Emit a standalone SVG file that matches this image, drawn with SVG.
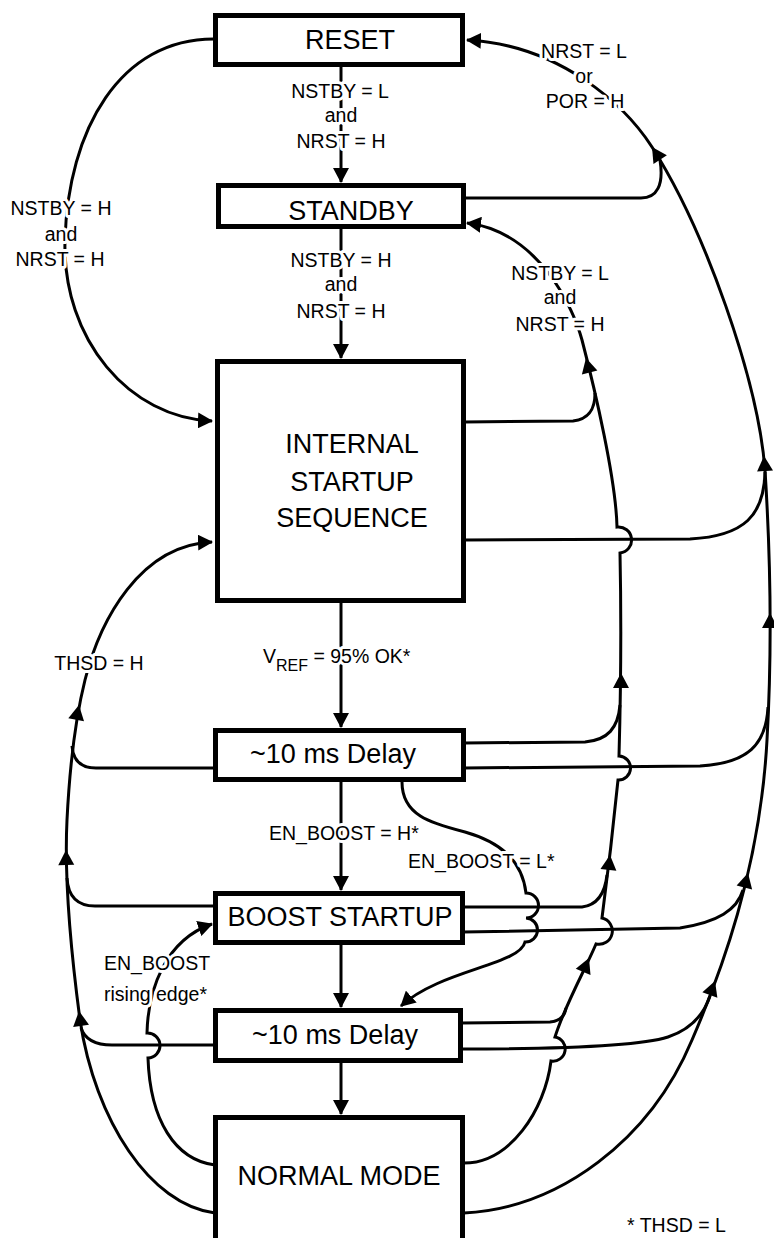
<svg xmlns="http://www.w3.org/2000/svg" width="774" height="1238" viewBox="0 0 774 1238">
<defs>
<style>
.box{fill:#fff;stroke:#000;stroke-width:5}
.bt{font-family:"Liberation Sans",Arial,sans-serif;font-size:27px;fill:#000;text-anchor:middle}
.c{fill:none;stroke:#000;stroke-width:3}
.a{marker-end:url(#arr)}
.lbl{font-family:"Liberation Sans",Arial,sans-serif;font-size:19.5px;fill:#000;stroke:#fff;stroke-width:6;stroke-linejoin:round;paint-order:stroke}
.m{text-anchor:middle}
</style>
<marker id="arr" viewBox="0 0 15 16" refX="14" refY="8" markerWidth="15" markerHeight="16" orient="auto" markerUnits="userSpaceOnUse"><path d="M0,0 L15,8 L0,16 z" fill="#000"/></marker>
<polygon id="ah" points="0,0 -15,-8 -15,8" fill="#000"/>
</defs>
<rect width="774" height="1238" fill="#fff"/>
<g id="connectors">
<path class="c a" d="M341,67 V182"/>
<path class="c a" d="M341,229 V358"/>
<path class="c a" d="M341,603 V727"/>
<path class="c a" d="M341,782 V890"/>
<path class="c a" d="M341,945 V1007"/>
<path class="c a" d="M341,1063 V1114"/>
<path class="c a" d="M215,39 C120,38 68,130 65,240 C62,340 130,418 212,421"/>
<path class="c a" d="M215,1213 C150,1205 95,1120 80,1020 C72,960 64,880 67,820 C70,760 75,720 85,680 C100,620 140,545 212,542"/>
<path class="c" d="M215,768 L96,768 C80,768 73,760 72,746"/>
<path class="c" d="M215,906 L95,906 C76,906 68,895 67,878"/>
<path class="c" d="M215,1045 L112,1045 C95,1045 85,1040 81,1028"/>
<path class="c a" d="M215,1165 C175,1160 150,1120 148,1058 A12.5,12.5 0 0 0 147,1033 C148,990 165,940 212,924"/>
<path class="c a" d="M402,782 C402,815 430,823 465,832 C500,842 522,860 526,893 A12.5,12.5 0 0 1 526,918 A12,12 0 0 1 525,942 C520,965 440,970 401,1006"/>
<path class="c a" d="M464,1163 C510,1163 545,1110 551,1061 A12,12 0 0 0 555,1037 C565,1005 585,970 596,944 A13,13 0 0 0 602,918 C607,880 613,830 618,780 A12,12 0 0 0 619,756 C620,720 622,650 620,553 A13,13 0 0 0 617,527 C616,480 595,390 582,340 C574,310 540,232 467,223"/>
<path class="c a" d="M464,1213 C560,1208 650,1140 692,1040 C720,975 760,870 767,740 C771,670 772,580 765,470 C758,380 705,230 652,147 C625,105 560,45 467,40"/>
<path class="c" d="M464,198 L641,198 C657,198 664,185 660,160"/>
<path class="c" d="M464,422 L573,421 C590,419 595,408 595,393"/>
<path class="c" d="M464,540 L690,539 C745,536 764,515 765,472"/>
<path class="c" d="M464,743 L585,742 C608,740 618,728 620,705"/>
<path class="c" d="M464,768 L700,766 C748,763 766,745 768,707"/>
<path class="c" d="M463,907 L582,907 C598,905 605,893 607,875"/>
<path class="c" d="M463,932 L680,928 C718,922 737,910 743,890"/>
<path class="c" d="M461,1023 L550,1022 C561,1021 565,1015 566,1008"/>
<path class="c" d="M461,1049 C560,1049 640,1046 668,1037 C692,1029 704,1014 710,996"/>
<use href="#ah" transform="translate(652,147) rotate(-123)"/>
<use href="#ah" transform="translate(764,456) rotate(-94)"/>
<use href="#ah" transform="translate(770,613) rotate(-90)"/>
<use href="#ah" transform="translate(748,873) rotate(-76)"/>
<use href="#ah" transform="translate(715,981) rotate(-70)"/>
<use href="#ah" transform="translate(586,358) rotate(-104)"/>
<use href="#ah" transform="translate(621,673) rotate(-90)"/>
<use href="#ah" transform="translate(610,855) rotate(-84)"/>
<use href="#ah" transform="translate(589,958) rotate(-67)"/>
<use href="#ah" transform="translate(79,705) rotate(-79)"/>
<use href="#ah" transform="translate(66,850) rotate(-91)"/>
<use href="#ah" transform="translate(79,1011) rotate(-98)"/>
</g>
<g id="labels">
<text class="lbl m" x="340" y="98">NSTBY = L</text>
<text class="lbl m" x="341" y="122">and</text>
<text class="lbl m" x="341" y="148">NRST = H</text>
<text class="lbl m" x="341" y="267">NSTBY = H</text>
<text class="lbl m" x="341" y="291">and</text>
<text class="lbl m" x="341" y="318">NRST = H</text>
<text class="lbl m" x="61" y="215">NSTBY = H</text>
<text class="lbl m" x="61" y="241">and</text>
<text class="lbl m" x="60" y="266">NRST = H</text>
<text class="lbl m" x="584" y="58">NRST = L</text>
<text class="lbl m" x="584" y="83">or</text>
<text class="lbl m" x="585" y="108">POR = H</text>
<text class="lbl m" x="560" y="280">NSTBY = L</text>
<text class="lbl m" x="560" y="304">and</text>
<text class="lbl m" x="560" y="331">NRST = H</text>
<text class="lbl m" x="99" y="670">THSD = H</text>
<text class="lbl" x="263" y="663">V<tspan dy="8" font-size="16">REF</tspan><tspan dy="-8"> = 95% OK*</tspan></text>
<text class="lbl" x="269" y="840">EN_BOOST = H*</text>
<text class="lbl" x="408" y="868">EN_BOOST = L*</text>
<text class="lbl" x="104" y="970">EN_BOOST</text>
<text class="lbl" x="104" y="1001">rising edge*</text>
<text class="lbl" x="627" y="1232">* THSD = L</text>
</g>
<g id="reset"><rect class="box" x="215.5" y="15.5" width="247" height="49"/><text class="bt" x="350" y="49">RESET</text></g>
<g id="standby"><rect class="box" x="218.5" y="185.5" width="245" height="41"/><text class="bt" x="351" y="220">STANDBY</text></g>
<g id="internal-startup"><rect class="box" x="217.5" y="361.5" width="246" height="239"/><text class="bt" x="352" y="453">INTERNAL</text><text class="bt" x="352" y="491">STARTUP</text><text class="bt" x="352" y="527">SEQUENCE</text></g>
<g id="delay1"><rect class="box" x="215.5" y="730.5" width="248" height="49"/><text class="bt" x="333" y="763">~10 ms Delay</text></g>
<g id="boost-startup"><rect class="box" x="215.5" y="893.5" width="247" height="49"/><text class="bt" x="340" y="926">BOOST STARTUP</text></g>
<g id="delay2"><rect class="box" x="215.5" y="1010.5" width="245" height="50"/><text class="bt" x="335" y="1044">~10 ms Delay</text></g>
<g id="normal-mode"><rect class="box" x="215.5" y="1117.5" width="247" height="140"/><text class="bt" x="339" y="1185">NORMAL MODE</text></g>
</svg>
